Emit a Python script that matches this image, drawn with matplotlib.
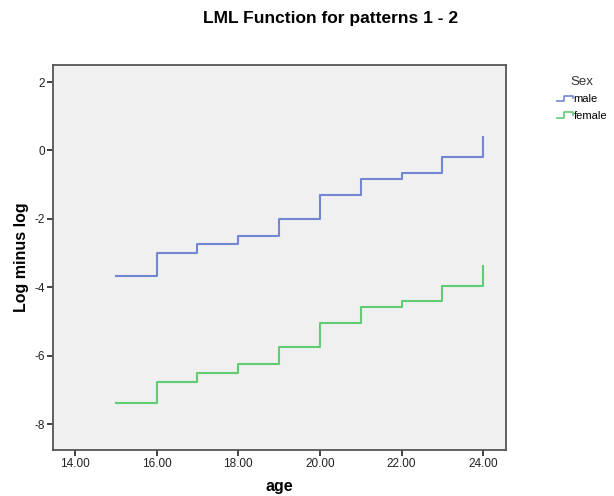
import numpy as np
import matplotlib
matplotlib.use("Agg")
import matplotlib.pyplot as plt
from matplotlib.legend_handler import HandlerLine2D
from matplotlib.lines import Line2D

# === Data ===
age = [15, 16, 17, 18, 19, 20, 21, 22, 23, 24]
male = [-3.66, -3.00, -2.74, -2.49, -1.99, -1.29, -0.82, -0.65, -0.20, 0.39]
female = [-7.40, -6.77, -6.50, -6.24, -5.74, -5.05, -4.58, -4.40, -3.97, -3.38]
series_names = ["male", "female"]
x_ticks = [14, 16, 18, 20, 22, 24]
y_ticks = [2, 0, -2, -4, -6, -8]

colors = {"male": "#7287d2", "female": "#62cc75"}

plt.rcParams["font.family"] = ["Liberation Sans", "DejaVu Sans"]


# legend handle drawn as a small step, like SPSS does
class StepHandler(HandlerLine2D):
    def create_artists(self, legend, orig_handle, xdescent, ydescent,
                       width, height, fontsize, trans):
        w, h = width, height
        xs = np.array([0, 0.45, 0.45, 1.0, 1.0]) * w - xdescent
        ys = np.array([0.15, 0.15, 0.85, 0.85, 0.55]) * h - ydescent
        line = Line2D(xs, ys, color=orig_handle.get_color(), lw=1.2)
        line.set_transform(trans)
        return [line]


fig = plt.figure(figsize=(6.14, 4.96), dpi=100)
ax = fig.add_axes([53 / 614, 46 / 496, 453 / 614, 385 / 496])
ax.set_facecolor("#f0f0f0")

handles = []
for name, vals in zip(series_names, [male, female]):
    h, = ax.plot(age, vals, drawstyle="steps-post", color=colors[name],
                 lw=1.5, label=name)
    handles.append(h)

ax.set_xlim(13.46, 24.56)
ax.set_ylim(-8.76, 2.5)
ax.set_xticks(x_ticks)
ax.set_xticklabels([f"{t:.2f}" for t in x_ticks])
ax.set_yticks(y_ticks)
ax.set_yticklabels([str(t) for t in y_ticks])
ax.tick_params(labelsize=8.5, colors="#222222", length=4, width=1.2, pad=2)

for sp in ax.spines.values():
    sp.set_color("#555555")
    sp.set_linewidth(1.3)

ax.set_xlabel("age", fontsize=11.5, fontweight="bold", labelpad=6)
ax.set_ylabel("Log minus log", fontsize=11.5, fontweight="bold", labelpad=4)
fig.text(331 / 614, 1 - 18 / 496, "LML Function for patterns 1 - 2",
         ha="center", va="center", fontsize=12.5, fontweight="bold")

leg = fig.legend(handles=handles, labels=series_names, title="Sex",
                 loc="upper left", bbox_to_anchor=(551 / 614, 1 - 70 / 496),
                 frameon=False, fontsize=8, title_fontsize=9.5,
                 handlelength=1.5, handletextpad=0.05, labelspacing=0.6,
                 borderpad=0, handler_map={Line2D: StepHandler()})
leg.get_title().set_color("#333333")

fig.savefig("out.png", dpi=100)
